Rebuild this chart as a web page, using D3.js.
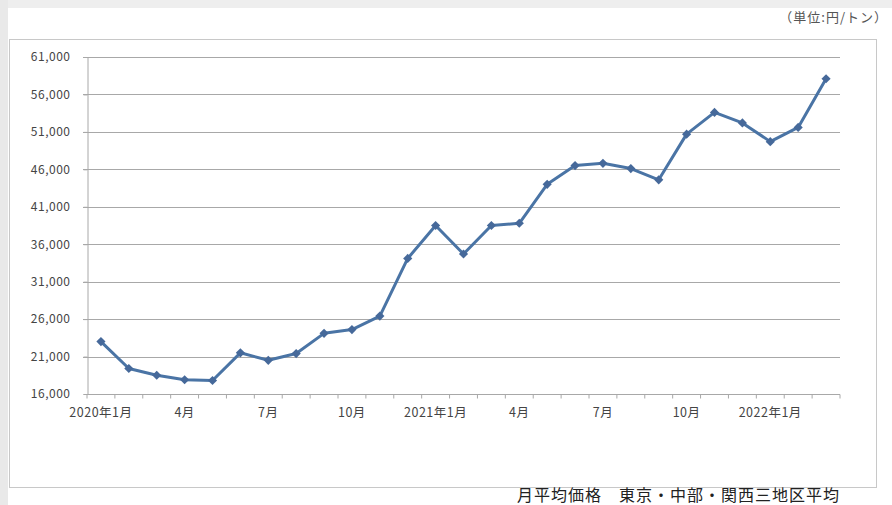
<!DOCTYPE html>
<html>
<head>
<meta charset="utf-8">
<script src="https://cdn.jsdelivr.net/npm/d3@7"></script>
<style>
  body { margin: 0; background: #fff; }
  svg { display: block; }
</style>
</head>
<body>
<svg id="chart" width="892" height="505"></svg>
<script>
// monthly average price, 2020/1 .. 2022/3
const months = ["2020年1月", "2月", "3月", "4月", "5月", "6月", "7月", "8月", "9月", "10月", "11月", "12月",
    "2021年1月", "2月", "3月", "4月", "5月", "6月", "7月", "8月", "9月", "10月", "11月", "12月",
    "2022年1月", "2月", "3月"];
const prices = [23000, 19400, 18500, 17900, 17800, 21500, 20500, 21400, 24100, 24600, 26400, 34100,
    38500, 34700, 38500, 38800, 44000, 46500, 46800, 46100, 44600, 50700, 53600, 52200,
    49700, 51600, 58100];
const yTicks = [16000, 21000, 26000, 31000, 36000, 41000, 46000, 51000, 56000, 61000];
const labelEvery = 3;

const font = "'Noto Sans CJK JP', 'Noto Sans', sans-serif";
const svg = d3.select("#chart");

// page edges and outer chart frame
svg.append("rect").attr("x", 0).attr("y", 0).attr("width", 892).attr("height", 8).attr("fill", "#eeeeee");
svg.append("rect").attr("x", 0).attr("y", 0).attr("width", 8).attr("height", 505).attr("fill", "#e9e9e9");
svg.append("rect")
    .attr("x", 9.5).attr("y", 39.5).attr("width", 867).attr("height", 448)
    .attr("fill", "#fff").attr("stroke", "#c8c8c8");

svg.append("text")
    .attr("x", 888).attr("y", 22)
    .attr("text-anchor", "end")
    .style("font", "13px " + font)
    .style("letter-spacing", "1px")
    .attr("fill", "#555")
    .text("（単位:円/トン）");

svg.append("text")
    .attr("x", 517).attr("y", 501)
    .style("font", "16px " + font)
    .style("letter-spacing", "1px")
    .attr("fill", "#222")
    .text("月平均価格　東京・中部・関西三地区平均");

// months repeat ("2月" twice...), so the band scale works on indices
const idx = d3.range(months.length);
const x = d3.scaleBand().domain(idx).range([87, 840]).padding(0);
const y = d3.scaleLinear().domain([16000, 61000]).range([394, 57]);
const cx = i => x(i) + x.bandwidth() / 2;

// gridlines
svg.append("g")
    .selectAll("line")
    .data(yTicks.slice(1))
    .enter().append("line")
    .attr("x1", 83).attr("x2", 840)
    .attr("y1", d => Math.round(y(d)) + 0.5).attr("y2", d => Math.round(y(d)) + 0.5)
    .attr("stroke", "#a8a8a8");

// y axis
const yAxis = svg.append("g")
    .attr("transform", "translate(87.5,0)")
    .call(d3.axisLeft(y).tickValues(yTicks).tickSize(4).tickFormat(d3.format(",")));
yAxis.select(".domain").attr("stroke", "#a8a8a8");
yAxis.selectAll(".tick line").attr("stroke", "#a8a8a8");
yAxis.selectAll("text")
    .attr("x", -17)
    .style("font", "12px " + font)
    .style("letter-spacing", "0.5px")
    .attr("fill", "#444");

// x axis, ticks on category boundaries
const xAxis = svg.append("g").attr("transform", "translate(0," + (y(16000) + 0.5) + ")");
xAxis.append("line").attr("x1", 87).attr("x2", 840).attr("stroke", "#a8a8a8");
xAxis.selectAll(".bt")
    .data(idx.concat([months.length]))
    .enter().append("line")
    .attr("x1", i => 87 + i * x.bandwidth())
    .attr("x2", i => 87 + i * x.bandwidth())
    .attr("y1", 0).attr("y2", 4)
    .attr("stroke", "#a8a8a8");
xAxis.selectAll("text")
    .data(idx.filter(i => i % labelEvery === 0))
    .enter().append("text")
    .attr("x", cx)
    .attr("y", 22)
    .attr("text-anchor", "middle")
    .style("font", "12.5px " + font)
    .style("letter-spacing", "0.5px")
    .attr("fill", "#444")
    .text(i => months[i]);

// series
const line = d3.line()
    .x((d, i) => cx(i))
    .y(d => y(d));

svg.append("path")
    .datum(prices)
    .attr("d", line)
    .attr("fill", "none")
    .attr("stroke", "#4a74a5")
    .attr("stroke-width", 3)
    .attr("stroke-linejoin", "round");

svg.selectAll(".pt")
    .data(prices)
    .enter().append("path")
    .attr("class", "pt")
    .attr("transform", (d, i) => "translate(" + cx(i) + "," + y(d) + ") rotate(45)")
    .attr("d", d3.symbol(d3.symbolSquare, 42))
    .attr("fill", "#46699a");
</script>
</body>
</html>
